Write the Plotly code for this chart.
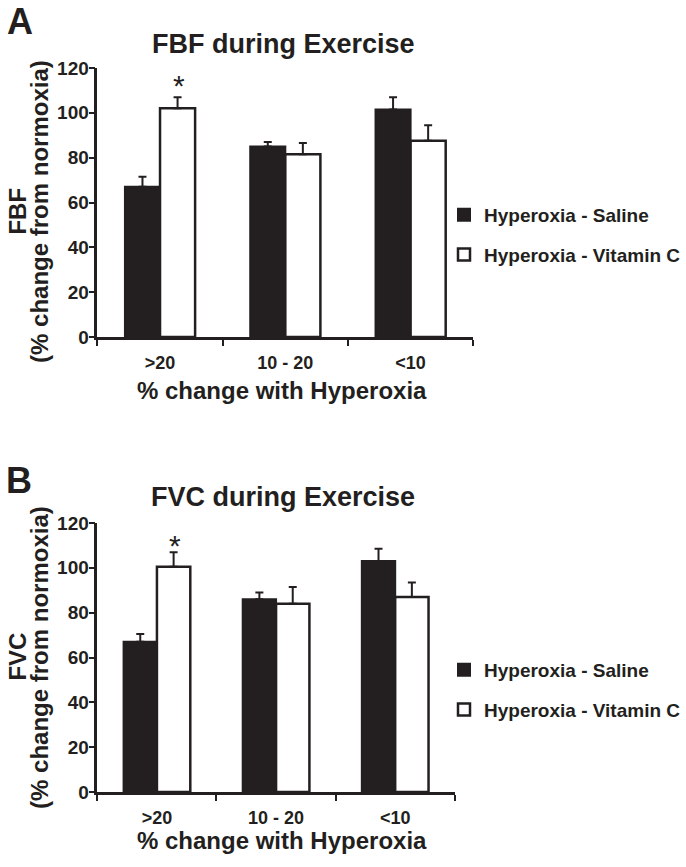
import plotly.graph_objects as go

# ---------------- data ----------------
categories = [">20", "10 - 20", "<10"]

fbf_saline = [67, 85, 101.5]
fbf_saline_err = [4.5, 2, 5.5]
fbf_vitc = [102, 81.5, 87.5]
fbf_vitc_err = [5, 5, 7]

fvc_saline = [67, 86, 103]
fvc_saline_err = [3.5, 3, 5.5]
fvc_vitc = [100.5, 84, 87]
fvc_vitc_err = [6.5, 7.5, 6.5]

series_names = ["Hyperoxia - Saline", "Hyperoxia - Vitamin C"]
y_ticks = [0, 20, 40, 60, 80, 100, 120]

# ---------------- styling ----------------
W, H = 686, 867
INK = "#231f20"
FONT = "Liberation Sans, Arial, Helvetica, sans-serif"


def px_x(p):
    return p / W


def px_y(p):
    return (H - p) / H


fig = go.Figure()


def add_panel(xa, ya, leg, sal, sal_err, vc, vc_err):
    zeros = [0] * len(categories)
    fig.add_trace(go.Bar(
        x=categories, y=sal, name=series_names[0],
        marker=dict(color=INK, line=dict(color=INK, width=2)),
        error_y=dict(type="data", array=sal_err, arrayminus=zeros, symmetric=False,
                     color=INK, thickness=2, width=4),
        xaxis=xa, yaxis=ya, legend=leg, legendgroup=leg + "s",
    ))
    fig.add_trace(go.Bar(
        x=categories, y=vc, name=series_names[1],
        marker=dict(color="white", line=dict(color=INK, width=2.5)),
        error_y=dict(type="data", array=vc_err, arrayminus=zeros, symmetric=False,
                     color=INK, thickness=2, width=4),
        xaxis=xa, yaxis=ya, legend=leg, legendgroup=leg + "v",
    ))


add_panel("x", "y", "legend", fbf_saline, fbf_saline_err, fbf_vitc, fbf_vitc_err)
add_panel("x2", "y2", "legend2", fvc_saline, fvc_saline_err, fvc_vitc, fvc_vitc_err)

xaxis_common = dict(
    type="category", range=[-0.5, 2.5], showline=True, linecolor=INK, linewidth=2.5,
    ticks="outside", tickson="boundaries", ticklen=6, tickwidth=2, tickcolor=INK,
    tickfont=dict(family=FONT, size=18, color=INK, weight="bold"),
    ticklabelstandoff=8,
    showgrid=False, zeroline=False, automargin=False, fixedrange=True,
)
yaxis_common = dict(
    range=[0, 120], tickvals=y_ticks, showline=True, linecolor=INK, linewidth=2.5,
    ticks="outside", ticklen=6, tickwidth=2, tickcolor=INK,
    tickfont=dict(family=FONT, size=19, color=INK, weight="bold"),
    ticklabelstandoff=-4,
    showgrid=False, zeroline=False, automargin=False, fixedrange=True,
)

legend_common = dict(
    xanchor="left", yanchor="middle", bgcolor="rgba(0,0,0,0)", borderwidth=0,
    font=dict(family=FONT, size=19, color=INK, weight="bold"),
    tracegroupgap=12, traceorder="grouped",
)

fig.update_layout(
    width=W, height=H,
    margin=dict(l=0, r=0, t=0, b=0),
    paper_bgcolor="white", plot_bgcolor="white",
    font=dict(family=FONT, color=INK),
    barmode="group", bargap=0.44, bargroupgap=0,
    xaxis=dict(domain=[px_x(100), px_x(486)], anchor="y", **xaxis_common),
    yaxis=dict(domain=[px_y(337), px_y(68)], anchor="x", **yaxis_common),
    xaxis2=dict(domain=[px_x(100), px_x(467)], anchor="y2", **xaxis_common),
    yaxis2=dict(domain=[px_y(792), px_y(523)], anchor="x2", **yaxis_common),
    legend=dict(x=px_x(456), y=px_y(235), **legend_common),
    legend2=dict(x=px_x(456), y=px_y(690), **legend_common),
    showlegend=True,
)

bold = dict(family=FONT, color=INK, weight="bold")
annots = [
    # panel letters
    dict(text="A", x=px_x(21), y=px_y(22), font=dict(size=36, **bold)),
    dict(text="B", x=px_x(19), y=px_y(480), font=dict(size=36, **bold)),
    # panel titles
    dict(text="FBF during Exercise", x=px_x(291), y=px_y(44), font=dict(size=27, **bold)),
    dict(text="FVC during Exercise", x=px_x(291), y=px_y(497), font=dict(size=27, **bold)),
    # y titles
    dict(text="FBF", x=px_x(17), y=px_y(211), textangle=-90, font=dict(size=24, **bold)),
    dict(text="(% change from normoxia)", x=px_x(40), y=px_y(211), textangle=-90,
         font=dict(size=24, **bold)),
    dict(text="FVC", x=px_x(17), y=px_y(657), textangle=-90, font=dict(size=24, **bold)),
    dict(text="(% change from normoxia)", x=px_x(40), y=px_y(657), textangle=-90,
         font=dict(size=24, **bold)),
    # x titles
    dict(text="% change with Hyperoxia", x=px_x(290), y=px_y(390), font=dict(size=24, **bold)),
    dict(text="% change with Hyperoxia", x=px_x(290), y=px_y(840), font=dict(size=24, **bold)),
]
for a in annots:
    fig.add_annotation(xref="paper", yref="paper", xanchor="center", yanchor="middle",
                       showarrow=False, **a)

# significance asterisks above the Vitamin C bar of the ">20" group
fig.add_annotation(x=categories[0], y=112, xref="x", yref="y", text="*", showarrow=False,
                   xshift=19, font=dict(family=FONT, size=30, color=INK))
fig.add_annotation(x=categories[0], y=110, xref="x2", yref="y2", text="*", showarrow=False,
                   xshift=18, font=dict(family=FONT, size=30, color=INK))

# remove the browser's default 8px page margin so the figure sits at the window origin
fig.write_html("out.html", config={"displayModeBar": False, "staticPlot": False},
               post_script="document.body.style.margin='0px';")
